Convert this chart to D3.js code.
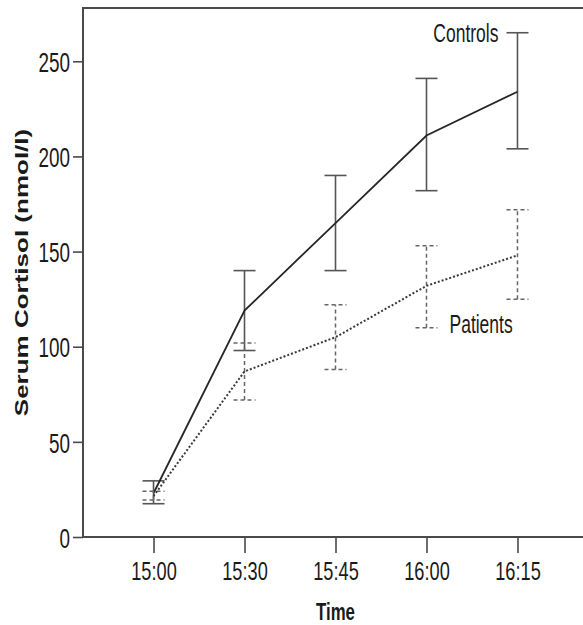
<!DOCTYPE html>
<html>
<head>
<meta charset="utf-8">
<script src="https://cdn.jsdelivr.net/npm/d3@7"></script>
<style>
  body { margin: 0; background: #fff; }
  svg { display: block; }
  text { font-family: "Liberation Sans", Arial, sans-serif; fill: #1a1a1a; }
</style>
</head>
<body>
<svg id="chart"></svg>
<script>
const times = ["15:00", "15:30", "15:45", "16:00", "16:15"];
const yTicks = [0, 50, 100, 150, 200, 250];

const controlsMean = [23, 119, 165, 211, 234];
const controlsLow = [17.5, 98, 140, 182, 204];
const controlsHigh = [29.5, 140, 190, 241, 265];

const patientsMean = [21.5, 87, 105, 132, 148];
const patientsLow = [19.5, 72, 88, 110, 125];
const patientsHigh = [24, 102, 122, 153, 172];

const size = { width: 583, height: 625 };
const box = { left: 83, top: 8, right: 588, bottom: 537 };
const squeeze = 0.7; // the source image is narrowed horizontally

const svg = d3.select("#chart")
  .attr("width", size.width)
  .attr("height", size.height);

const x = d3.scalePoint()
  .domain(times)
  .range([box.left, box.right])
  .padding(0.775);

const y = d3.scaleLinear()
  .domain([0, 278])
  .range([box.bottom, box.top]);

// frame (right edge falls outside the picture)
svg.append("rect")
  .attr("x", box.left)
  .attr("y", box.top)
  .attr("width", box.right - box.left)
  .attr("height", box.bottom - box.top)
  .attr("fill", "none")
  .attr("stroke", "#4a4a4a")
  .attr("stroke-width", 2);

// y axis
const yAxis = svg.append("g")
  .attr("transform", "translate(" + box.left + ",0)")
  .call(d3.axisLeft(y).tickValues(yTicks).tickSize(10).tickSizeOuter(0).tickPadding(3));
yAxis.select(".domain").remove();
yAxis.selectAll("line").attr("stroke", "#4a4a4a").attr("stroke-width", 1.6);
yAxis.selectAll("text")
  .attr("x", -13 / squeeze)
  .attr("dy", "0.38em")
  .attr("transform", "scale(" + squeeze + ",1)")
  .style("font-size", "27px")
  .style("font-family", "Liberation Sans, Arial, sans-serif")
  .attr("fill", "#1a1a1a");

// x axis
const xAxis = svg.append("g")
  .attr("transform", "translate(0," + box.bottom + ")")
  .call(d3.axisBottom(x).tickSize(16).tickSizeOuter(0));
xAxis.select(".domain").remove();
xAxis.selectAll("line").attr("stroke", "#4a4a4a").attr("stroke-width", 1.6);
xAxis.selectAll("text")
  .attr("y", 43)
  .attr("dy", 0)
  .attr("transform", "scale(" + squeeze + ",1)")
  .style("font-size", "26px")
  .style("font-family", "Liberation Sans, Arial, sans-serif")
  .attr("fill", "#1a1a1a");

// axis titles
svg.append("text")
  .attr("transform", "translate(" + ((box.left + box.right) / 2) + ",620) scale(" + squeeze + ",1)")
  .attr("text-anchor", "middle")
  .style("font-size", "24px")
  .style("font-weight", "bold")
  .text("Time");

svg.append("text")
  .attr("transform", "translate(28," + ((box.top + box.bottom) / 2) + ") scale(" + squeeze + ",1) rotate(-90)")
  .attr("text-anchor", "middle")
  .style("font-size", "26px")
  .style("font-weight", "bold")
  .text("Serum Cortisol (nmol/l)");

function toRows(mean, low, high) {
  return times.map((t, i) => ({ t: t, mean: mean[i], low: low[i], high: high[i] }));
}

const series = [
  {
    name: "Controls",
    rows: toRows(controlsMean, controlsLow, controlsHigh),
    line: { stroke: "#262626", width: 1.8, dash: null },
    bar: { stroke: "#555", width: 1.6, dash: null }
  },
  {
    name: "Patients",
    rows: toRows(patientsMean, patientsLow, patientsHigh),
    line: { stroke: "#3a3a3a", width: 2, dash: "2,2" },
    bar: { stroke: "#666", width: 1.5, dash: "4,3" }
  }
];

const capHalf = 11;
const line = d3.line().x(d => x(d.t)).y(d => y(d.mean));

series.forEach(s => {
  const g = svg.append("g").attr("class", "series");

  const bars = g.selectAll("g.err")
    .data(s.rows)
    .enter()
    .append("g")
    .attr("class", "err")
    .attr("stroke", s.bar.stroke)
    .attr("stroke-width", s.bar.width)
    .attr("stroke-dasharray", s.bar.dash);

  bars.append("line")
    .attr("x1", d => x(d.t)).attr("x2", d => x(d.t))
    .attr("y1", d => y(d.low)).attr("y2", d => y(d.high));
  bars.append("line")
    .attr("x1", d => x(d.t) - capHalf).attr("x2", d => x(d.t) + capHalf)
    .attr("y1", d => y(d.high)).attr("y2", d => y(d.high));
  bars.append("line")
    .attr("x1", d => x(d.t) - capHalf).attr("x2", d => x(d.t) + capHalf)
    .attr("y1", d => y(d.low)).attr("y2", d => y(d.low));

  g.append("path")
    .datum(s.rows)
    .attr("d", line)
    .attr("fill", "none")
    .attr("stroke", s.line.stroke)
    .attr("stroke-width", s.line.width)
    .attr("stroke-dasharray", s.line.dash);
});

// series labels next to their error bars
const lastC = series[0].rows[4];
svg.append("text")
  .attr("transform", "translate(" + (x(lastC.t) - 19) + "," + (y(lastC.high) + 9) + ") scale(" + squeeze + ",1)")
  .attr("text-anchor", "end")
  .style("font-size", "25px")
  .text("Controls");

const p16 = series[1].rows[3];
svg.append("text")
  .attr("transform", "translate(" + (x(p16.t) + 23) + "," + (y(p16.low) + 5) + ") scale(" + squeeze + ",1)")
  .attr("text-anchor", "start")
  .style("font-size", "25px")
  .text("Patients");
</script>
</body>
</html>
